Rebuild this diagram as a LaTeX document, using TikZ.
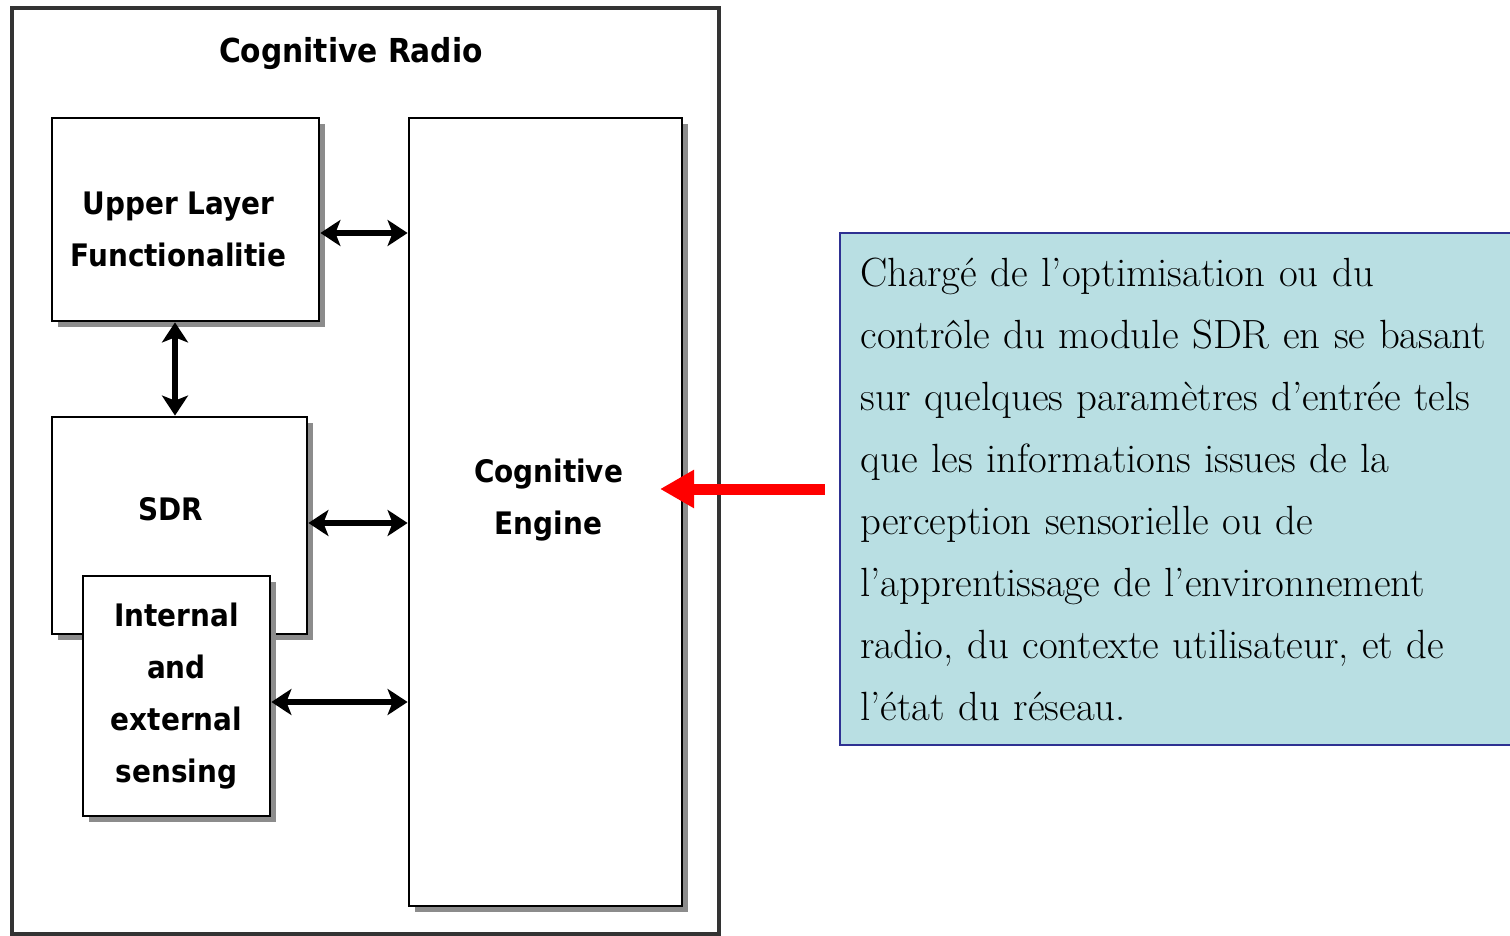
\documentclass[tikz,border=0pt]{standalone}
\usepackage{fontspec}
\newfontfamily\diagfont{DejaVu Sans Condensed}
\usetikzlibrary{arrows.meta,shadows}
\definecolor{descfill}{HTML}{B9DFE3}
\definecolor{descborder}{HTML}{2E3192}
\definecolor{frame}{HTML}{333333}
\begin{document}
\begin{tikzpicture}[x=1pt,y=-1pt,
  box/.style={draw=black, line width=2.8pt, fill=white, inner sep=0pt,
    drop shadow={shadow xshift=6pt, shadow yshift=-6pt, fill=black!45, opacity=1}},
  lbl/.style={font=\diagfont\bfseries\fontsize{31}{52}\selectfont, align=center},
  dbl/.style={line width=6pt, {Stealth[length=20pt,width=26pt,inset=5pt]}-{Stealth[length=20pt,width=26pt,inset=5pt]}},
  redarrow/.style={red, line width=11pt, -{Triangle[length=34pt,width=36pt]}}]
\useasboundingbox (0,0) rectangle (1510,936);
% outer frame
\node[draw=frame, line width=3.8pt, minimum width=707pt, minimum height=926pt, inner sep=0pt] (outer) at (365.5,471) {};
\node[font=\diagfont\bfseries\fontsize{33}{40}\selectfont] (title) at (351,54) {Cognitive Radio};
% blocks
\node[box, minimum width=267pt, minimum height=203pt,
  label={[lbl, xshift=-7pt, yshift=-10pt, name=ultext]center:Upper Layer\\Functionalitie}] (ul) at (185.5,219.5) {};
\node[box, minimum width=273pt, minimum height=788pt,
  label={[lbl, xshift=3pt, yshift=12pt, name=cetext]center:Cognitive\\Engine}] (ce) at (545.5,512) {};
\node[box, minimum width=255pt, minimum height=217pt,
  label={[lbl, xshift=-9pt, yshift=16pt, name=sdrtext]center:SDR}] (sdr) at (179.5,525.5) {};
\node[box, minimum width=187pt, minimum height=240pt, lbl] (sens) at (176.5,696) {Internal\\and\\external\\sensing};
% connectors
\draw[dbl] (ul.east |- 0,233) -- (ce.west |- 0,233);
\draw[dbl] (ul.south -| 175,0) -- (sdr.north -| 175,0);
\draw[dbl] (sdr.east |- 0,523) -- (ce.west |- 0,523);
\draw[dbl] (sens.east |- 0,702) -- (ce.west |- 0,702);
% description
\node[fill=descfill, draw=descborder, line width=2pt, text width=629pt, inner xsep=21pt, inner ysep=0pt,
  minimum height=512pt, align=left, font=\fontsize{40.8}{62}\selectfont] (desc) at (1175,489)
  {Chargé de l’optimisation ou du\\contrôle du module SDR en se basant\\sur quelques paramètres d’entrée tels\\que les informations issues de la\\perception sensorielle ou de\\l’apprentissage de l’environnement\\radio, du contexte utilisateur, et de\\l’état du réseau.};
\coordinate (redtip) at (660,489);
\draw[redarrow, shorten <=14pt] (desc.west) -- (redtip);
\end{tikzpicture}
\end{document}
